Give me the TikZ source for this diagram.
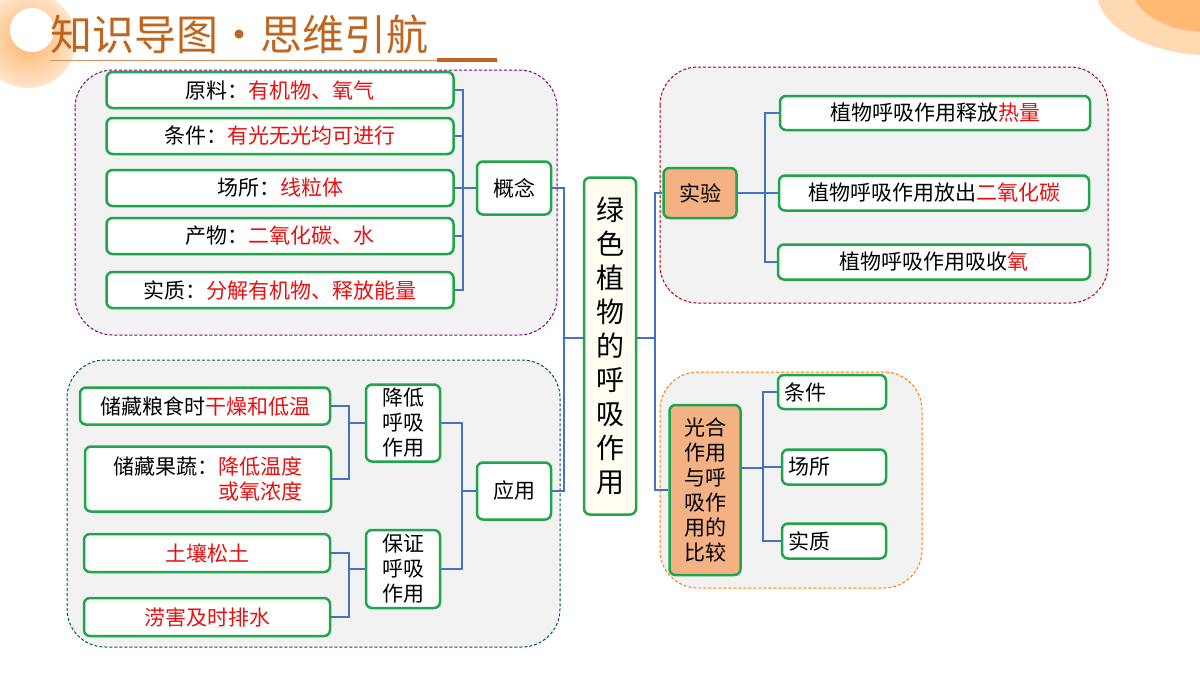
\documentclass[tikz,border=0pt]{standalone}
\usepackage{fontspec}
\setmainfont{Noto Sans CJK SC}
\usetikzlibrary{calc}
\definecolor{gb}{HTML}{1FA64A}
\definecolor{bl}{HTML}{4472C4}
\definecolor{rd}{HTML}{E81010}
\definecolor{og}{HTML}{F4B183}
\definecolor{tt}{HTML}{C0651E}
\definecolor{gy}{HTML}{F2F2F2}
\begin{document}
\begin{tikzpicture}[x=1pt,y=-1pt,
 box/.style={draw=gb,line width=2.5pt,rounded corners=6pt,fill=white,inner sep=0pt,font=\fontsize{21}{25}\selectfont},
 grp/.style={dash pattern=on 3pt off 2pt,line width=1pt,fill=gy,rounded corners=38pt},
 ln/.style={draw=bl,line width=2.2pt}]
\useasboundingbox (0,0) rectangle (1200,675);
\fill[white] (0,0) rectangle (1200,675);
% decorations
\shade[inner color=orange!60,outer color=orange!20] (28,40) circle (48);
\fill[white] (32,30) circle (22);
\fill[orange!30] (1098,0) .. controls (1105,30) and (1150,52) .. (1200,55) -- (1200,0) -- cycle;
\fill[orange!55] (1135,0) .. controls (1145,18) and (1170,30) .. (1200,32) -- (1200,0) -- cycle;
\node[anchor=west,text=tt,font=\fontsize{42}{46}\selectfont,inner sep=0pt] (title) at (50,34) {知识导图·思维引航};
\draw[tt!70,line width=1pt] (50,60) -- (498,60);
\draw[tt,line width=3.5pt] (437,60) -- (497,60);
% groups
\draw[grp,draw=violet] (75,70) rectangle (557,335);
\draw[grp,draw=teal!70!black] (67,360) rectangle (560,647);
\draw[grp,draw=red!70!black] (660,67) rectangle (1108,303);
\draw[grp,draw=orange] (660,372) rectangle (922,588);
% central
\node[box,fill=yellow!6,minimum width=52,minimum height=337,align=center,font=\fontsize{28}{34}\selectfont] (c) at (610,346) {绿\\色\\植\\物\\的\\呼\\吸\\作\\用};
% left top
\node[box,minimum width=347,minimum height=36] (a1) at (280,90) {原料：\textcolor{rd}{有机物、氧气}};
\node[box,minimum width=347,minimum height=36] (a2) at (280,136) {条件：\textcolor{rd}{有光无光均可进行}};
\node[box,minimum width=347,minimum height=36] (a3) at (280,188) {场所：\textcolor{rd}{线粒体}};
\node[box,minimum width=347,minimum height=36] (a4) at (280,236) {产物：\textcolor{rd}{二氧化碳、水}};
\node[box,minimum width=347,minimum height=36] (a5) at (280,290) {实质：\textcolor{rd}{分解有机物、释放能量}};
\node[box,minimum width=74,minimum height=53] (gn) at (514,188) {概念};
\coordinate (j1) at (463,188);
\foreach \n in {a1,a2,a3,a4,a5} \draw[ln] (\n.east) -| (j1);
\draw[ln] (j1) -- (gn.west);
% left bottom
\node[box,minimum width=74,minimum height=57] (yy) at (514,491) {应用};
\node[box,minimum width=74,minimum height=77,align=center] (jd) at (403,423) {降低\\呼吸\\作用};
\node[box,minimum width=74,minimum height=78,align=center] (bz) at (403,569) {保证\\呼吸\\作用};
\node[box,minimum width=250,minimum height=37] (b1) at (205,406) {储藏粮食时\textcolor{rd}{干燥和低温}};
\node[box,minimum width=246,minimum height=65,align=left] (b2) at (208,479) {储藏果蔬：\textcolor{rd}{降低温度}\\\phantom{储藏果蔬：}\textcolor{rd}{或氧浓度}};
\node[box,minimum width=246,minimum height=38,text=rd] (b3) at (207,553) {土壤松土};
\node[box,minimum width=246,minimum height=38,text=rd] (b4) at (207,617) {涝害及时排水};
\coordinate (j2) at (349,423);
\coordinate (j3) at (349,569);
\coordinate (j4) at (462,491);
\draw[ln] (b1.east) -| (j2); \draw[ln] (b2.east) -| (j2); \draw[ln] (j2) -- (jd.west);
\draw[ln] (b3.east) -| (j3); \draw[ln] (b4.east) -| (j3); \draw[ln] (j3) -- (bz.west);
\draw[ln] (jd.east) -| (j4); \draw[ln] (bz.east) -| (j4); \draw[ln] (j4) -- (yy.west);
% center links left
\coordinate (j5) at (564,338);
\draw[ln] (gn.east) -| (j5); \draw[ln] (yy.east) -| (j5); \draw[ln] (j5) -- (c.west|-j5);
% right
\node[box,fill=og,minimum width=73,minimum height=50] (sy) at (700,193) {实验};
\node[box,fill=og,minimum width=71,minimum height=170,align=center] (gh) at (705,490) {光合\\作用\\与呼\\吸作\\用的\\比较};
\coordinate (j6) at (655,338);
\draw[ln] (c.east|-j6) -- (j6);
\draw[ln] (j6) |- (sy.west); \draw[ln] (j6) |- (gh.west);
\node[box,minimum width=310,minimum height=34] (s1) at (935,113) {植物呼吸作用释放\textcolor{rd}{热量}};
\node[box,minimum width=310,minimum height=35] (s2) at (934,193) {植物呼吸作用放出\textcolor{rd}{二氧化碳}};
\node[box,minimum width=312,minimum height=35] (s3) at (934,262) {植物呼吸作用吸收\textcolor{rd}{氧}};
\coordinate (j7) at (765,193);
\draw[ln] (sy.east) -- (j7); \foreach \n in {s1,s2,s3} \draw[ln] (j7) |- (\n.west);
\node[box,minimum width=108,minimum height=34,align=left,text width=96] (t1) at (832,392) {条件};
\node[box,minimum width=104,minimum height=35,align=left,text width=92] (t2) at (834,467) {场所};
\node[box,minimum width=104,minimum height=35,align=left,text width=92] (t3) at (834,541) {实质};
\coordinate (j8) at (763,468);
\draw[ln] (gh.east|-j8) -- (j8); \foreach \n in {t1,t2,t3} \draw[ln] (j8) |- (\n.west);
\end{tikzpicture}
\end{document}
